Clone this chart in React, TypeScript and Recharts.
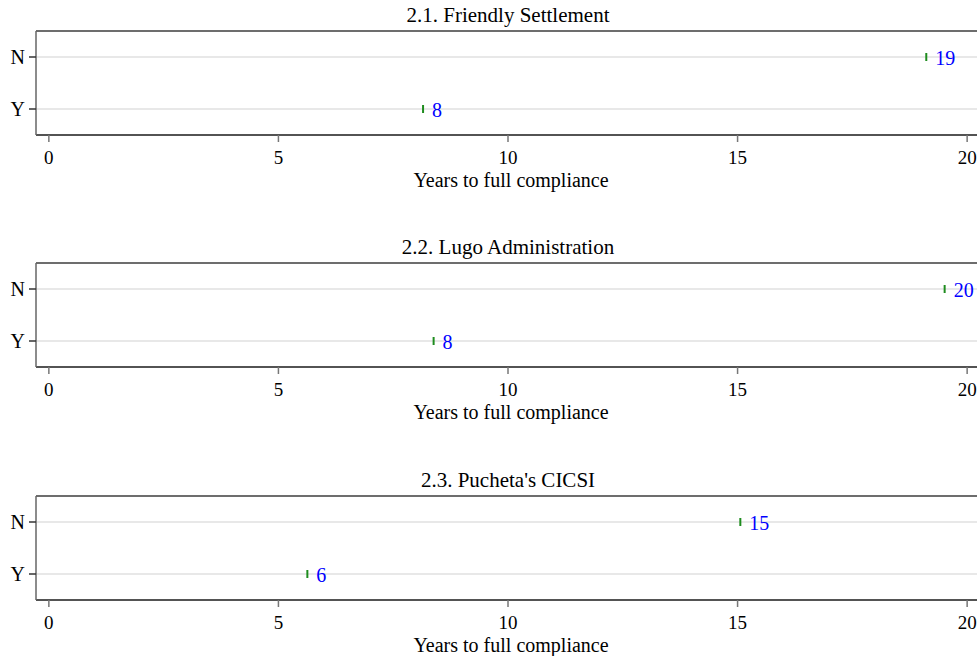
import {
  ScatterChart, Scatter,
  XAxis, YAxis, CartesianGrid, ReferenceLine,
} from "recharts";

// categories (N = not settled / Y = settled), top to bottom
const groups = ["N", "Y"];

const panelTitles = [
  "2.1. Friendly Settlement",
  "2.2. Lugo Administration",
  "2.3. Pucheta's CICSI",
];

// mean years to full compliance, in the order of `groups`
const friendlyYears = [19.11, 8.15];
const lugoYears     = [19.51, 8.38];
const puchetaYears  = [15.06, 5.63];

const xTicks = [0, 5, 10, 15, 20];

const SERIF = "'Liberation Serif', 'Times New Roman', 'DejaVu Serif', serif";
const panelTops = [0, 232, 465];

// N sits on top, Y below
const groupPos: Record<string, number> = { N: 1, Y: 0 };

function Marker(props: any) {
  const { cx, cy, payload } = props;
  if (cx == null || cy == null) return null;
  return (
    <g>
      <line x1={cx} x2={cx} y1={cy - 4} y2={cy + 4}
        stroke="#1e8c1e" strokeWidth={2} />
      <text x={cx + 9} y={cy + 7.5} fill="#0000ff"
        fontSize={20} fontFamily={SERIF}>
        {Math.round(payload.years)}
      </text>
    </g>
  );
}

function Panel({ title, years, top }: { title: string; years: number[]; top: number }) {
  const data = groups.map((g, i) => ({ group: g, pos: groupPos[g], years: years[i] }));

  return (
    <div style={{ position: "absolute", left: 0, top, width: 990, height: 200 }}>
      {/* Panel title */}
      <div style={{
        position: "absolute", left: 36, top: 5, width: 944,
        textAlign: "center", fontSize: 21, lineHeight: "21px",
        color: "#000", fontFamily: SERIF,
      }}>
        {title}
      </div>

      <ScatterChart width={990} height={200}
        margin={{ top: 31, right: 10, bottom: 0, left: 0 }}>
        <CartesianGrid vertical={false} stroke="#e1e1e1" strokeWidth={1.5} />
        <XAxis type="number" dataKey="years"
          domain={[-0.28, 20.28]} ticks={xTicks} allowDataOverflow
          height={65} tickSize={7} tickMargin={9}
          axisLine={{ stroke: "#222", strokeWidth: 1.5 }}
          tickLine={{ stroke: "#777", strokeWidth: 1.5 }}
          tick={{ fill: "#000", fontSize: 19, fontFamily: SERIF }}
          label={{
            value: "Years to full compliance", position: "insideBottom",
            offset: 13, dx: 3, fill: "#000", fontSize: 20, fontFamily: SERIF,
          }} />
        <YAxis type="number" dataKey="pos"
          domain={[-0.5, 1.5]} ticks={[0, 1]} width={36}
          tickFormatter={(v: number) => groups.find((g) => groupPos[g] === v) ?? ""}
          tickSize={7} tickMargin={4}
          axisLine={{ stroke: "#666", strokeWidth: 1.5 }}
          tickLine={{ stroke: "#333", strokeWidth: 1.5 }}
          tick={{ fill: "#000", fontSize: 20, fontFamily: SERIF }} />
        <ReferenceLine y={1.5} stroke="#444" strokeWidth={1.5} />
        <Scatter data={data} shape={<Marker />} isAnimationActive={false} />
      </ScatterChart>
    </div>
  );
}

export default function App() {
  const panels = [friendlyYears, lugoYears, puchetaYears];
  return (
    <div style={{
      position: "fixed", left: 0, top: 0, width: 977, height: 656,
      overflow: "hidden", background: "#fff", fontFamily: SERIF,
    }}>
      {panels.map((years, i) => (
        <Panel key={i} title={panelTitles[i]} years={years} top={panelTops[i]} />
      ))}
    </div>
  );
}
